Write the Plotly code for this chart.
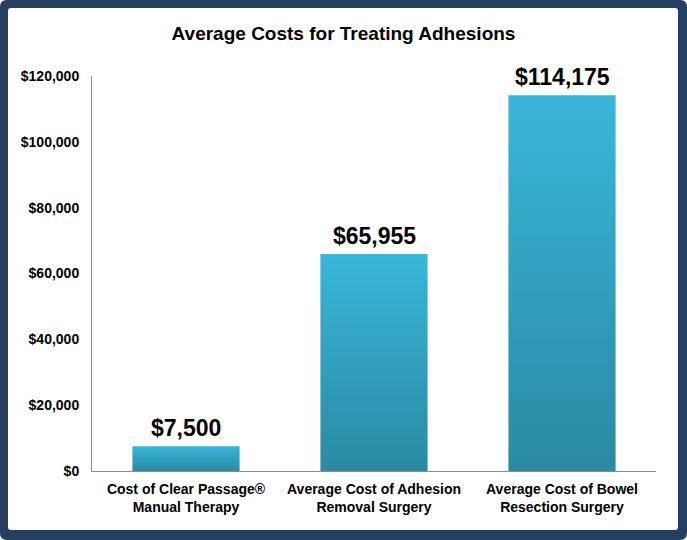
import plotly.graph_objects as go

# data
categories = [
    "Cost of Clear Passage®<br>Manual Therapy",
    "Average Cost of Adhesion<br>Removal Surgery",
    "Average Cost of Bowel<br>Resection Surgery",
]
costs = [7500, 65955, 114175]
cost_labels = ["$7,500", "$65,955", "$114,175"]
y_ticks = [0, 20000, 40000, 60000, 80000, 100000, 120000]

W, H = 687, 540
L, R, T, B = 92, 31, 76, 69
half_w = 0.285  # half bar width in category units
grad = [[0, "#2a8aa2"], [1, "#39b6da"]]
FONT = "Liberation Sans, Arial, sans-serif"


def rounded_rect(x0, y0, x1, y1, r):
    """SVG path (paper coords) for a rounded rectangle given in pixels."""
    px = lambda v: (v - L) / (W - L - R)
    py = lambda v: (H - B - v) / (H - T - B)
    pts = [
        ("M", [(x0 + r, y0)]),
        ("L", [(x1 - r, y0)]), ("Q", [(x1, y0), (x1, y0 + r)]),
        ("L", [(x1, y1 - r)]), ("Q", [(x1, y1), (x1 - r, y1)]),
        ("L", [(x0 + r, y1)]), ("Q", [(x0, y1), (x0, y1 - r)]),
        ("L", [(x0, y0 + r)]), ("Q", [(x0, y0), (x0 + r, y0)]),
    ]
    s = ""
    for cmd, ps in pts:
        s += cmd + " ".join(f"{px(a):.5f},{py(b):.5f}" for a, b in ps) + " "
    return s + "Z"


fig = go.Figure()

# bars drawn as filled polygons so they can carry a vertical gradient
for i, v in enumerate(costs):
    fig.add_trace(go.Scatter(
        x=[i - half_w, i + half_w, i + half_w, i - half_w, i - half_w],
        y=[0, 0, v, v, 0],
        mode="lines",
        line=dict(width=0, color="rgba(0,0,0,0)"),
        fill="toself",
        fillgradient=dict(type="vertical", colorscale=grad),
        hoverinfo="skip",
        showlegend=False,
    ))

# value labels above bars
for i, (v, lab) in enumerate(zip(costs, cost_labels)):
    fig.add_annotation(
        x=i, y=v, text=f"<b>{lab}</b>",
        showarrow=False, yanchor="bottom", yshift=3,
        font=dict(size=23, color="black", family=FONT),
    )

# frame: navy rounded border with a white panel inside
fig.add_shape(type="path", xref="paper", yref="paper", layer="below",
              path=rounded_rect(0, 0, W, H, 7),
              fillcolor="#243f5f", line=dict(width=0))
fig.add_shape(type="path", xref="paper", yref="paper", layer="below",
              path=rounded_rect(8, 8, 678, 530, 3),
              fillcolor="white", line=dict(width=0))

fig.update_layout(
    width=W, height=H,
    margin=dict(l=L, r=R, t=T, b=B),
    paper_bgcolor="white",
    plot_bgcolor="rgba(0,0,0,0)",
    font=dict(family=FONT, color="black"),
    title=dict(
        text="<b>Average Costs for Treating Adhesions</b>",
        x=0.5, xanchor="center", xref="container",
        y=1 - 33 / H, yanchor="middle", yref="container",
        font=dict(size=19, color="black"),
    ),
    showlegend=False,
)

fig.update_xaxes(
    range=[-0.5, 2.5],
    tickvals=list(range(len(categories))),
    ticktext=[f"<b>{c}</b>" for c in categories],
    tickfont=dict(size=14, color="black"),
    ticklabelstandoff=5,
    showline=True, linecolor="#8c8c8c", linewidth=1,
    showgrid=False, zeroline=False, ticks="",
)
fig.update_yaxes(
    range=[0, 120000],
    tickvals=y_ticks,
    ticktext=[f"<b>${t:,}</b>" for t in y_ticks],
    tickfont=dict(size=14, color="black"),
    ticklabelstandoff=9,
    showline=True, linecolor="#8c8c8c", linewidth=1,
    showgrid=False, zeroline=False, ticks="",
)

fig.write_html("out.html", config={"displayModeBar": False},
               post_script="document.body.style.margin='0';")
